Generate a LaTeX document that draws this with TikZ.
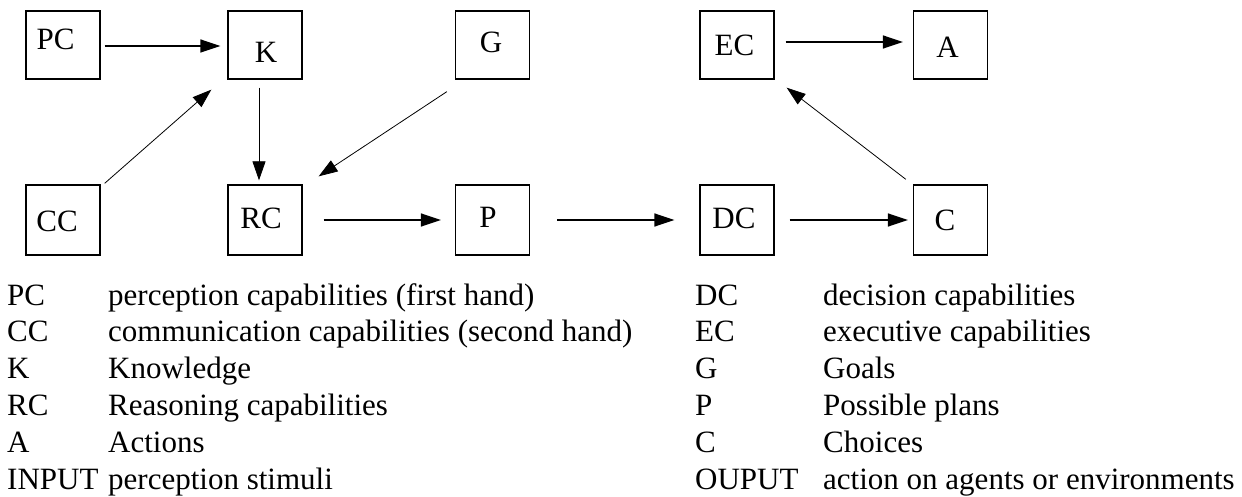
\documentclass[tikz,border=0pt]{standalone}
\usepackage{fontspec}
\setmainfont{Liberation Serif}
\usetikzlibrary{arrows.meta}
\begin{document}
\begin{tikzpicture}[x=1pt,y=-1pt,
  box/.style={draw, line width=1.3pt, minimum width=74pt, inner sep=0pt},
  topbox/.style={box, minimum height=68pt},
  botbox/.style={box, minimum height=70pt},
  lbl/.style={anchor=base, inner sep=0pt, font=\fontsize{31}{37}\selectfont},
  leg/.style={anchor=base west, inner sep=0pt, font=\fontsize{31}{37}\selectfont},
  heavyarrow/.style={line width=1.6pt, -{Triangle[length=20pt,width=13pt]}},
  lightarrow/.style={line width=0.8pt, -{Triangle[length=19pt,width=13pt]}}]
\useasboundingbox (0,0) rectangle (1242,497);
% boxes
\node[topbox] (PC) at (63,45) {};
\node[topbox] (K) at (265,45) {};
\node[topbox] (G) at (492.5,45) {};
\node[topbox] (EC) at (737,45) {};
\node[topbox] (A) at (950.5,45) {};
\node[botbox] (CC) at (63,220) {};
\node[botbox] (RC) at (265,220) {};
\node[botbox] (P) at (492.5,220) {};
\node[botbox] (DC) at (737,220) {};
\node[botbox] (C) at (950.5,220) {};
% box texts
\node[lbl] (PCt) at (55.5,50) {PC};
\node[lbl] (Kt) at (266,63) {K};
\node[lbl] (Gt) at (491,53) {G};
\node[lbl] (ECt) at (734.5,56) {EC};
\node[lbl] (At) at (947.5,58) {A};
\node[lbl] (CCt) at (57,232) {CC};
\node[lbl] (RCt) at (261,229) {RC};
\node[lbl] (Pt) at (488,227) {P};
\node[lbl] (DCt) at (734,229) {DC};
\node[lbl] (Ct) at (945,231) {C};
% arrows
\draw[heavyarrow, shorten <=4pt, shorten >=7pt] ([yshift=-1pt]PC.east) -- ([yshift=-1pt]K.west);
\draw[heavyarrow, shorten <=11pt, shorten >=10pt] ([yshift=3pt]EC.east) -- ([yshift=3pt]A.west);
\draw[heavyarrow, shorten <=21pt, shorten >=14pt] (RC.east) -- (P.west);
\draw[heavyarrow, shorten <=27pt, shorten >=25pt] (P.east) -- (DC.west);
\draw[heavyarrow, shorten <=15pt, shorten >=5pt] (DC.east) -- (C.west);
\draw[lightarrow, shorten <=8pt, shorten >=4pt] ([xshift=-6pt]K.south) -- ([xshift=-6pt]RC.north);
\draw[lightarrow] ([shift={(4pt,1pt)}]CC.north east) -- ([shift={(-16pt,-10pt)}]K.south west);
\draw[lightarrow] ([shift={(-8pt,-12pt)}]G.south west) -- ([shift={(16pt,8pt)}]RC.north east);
\draw[lightarrow] ([shift={(-7pt,5pt)}]C.north west) -- ([shift={(12pt,-8pt)}]EC.south east);
% legend
\node[leg] (l1a) at (7,305) {PC};
\node[leg] (l1b) at (108,305) {perception capabilities (first hand)};
\node[leg] (l2a) at (7,341.8) {CC};
\node[leg] (l2b) at (108,341.8) {communication capabilities (second hand)};
\node[leg] (l3a) at (7,378.6) {K};
\node[leg] (l3b) at (108,378.6) {Knowledge};
\node[leg] (l4a) at (7,415.4) {RC};
\node[leg] (l4b) at (108,415.4) {Reasoning capabilities};
\node[leg] (l5a) at (7,452.2) {A};
\node[leg] (l5b) at (108,452.2) {Actions};
\node[leg] (l6a) at (7,489) {INPUT};
\node[leg] (l6b) at (108,489) {perception stimuli};
\node[leg] (r1a) at (695,305) {DC};
\node[leg] (r1b) at (823,305) {decision capabilities};
\node[leg] (r2a) at (695,341.8) {EC};
\node[leg] (r2b) at (823,341.8) {executive capabilities};
\node[leg] (r3a) at (695,378.6) {G};
\node[leg] (r3b) at (823,378.6) {Goals};
\node[leg] (r4a) at (695,415.4) {P};
\node[leg] (r4b) at (823,415.4) {Possible plans};
\node[leg] (r5a) at (695,452.2) {C};
\node[leg] (r5b) at (823,452.2) {Choices};
\node[leg] (r6a) at (695,489) {OUPUT};
\node[leg] (r6b) at (823,489) {action on agents or environments};
\end{tikzpicture}
\end{document}
